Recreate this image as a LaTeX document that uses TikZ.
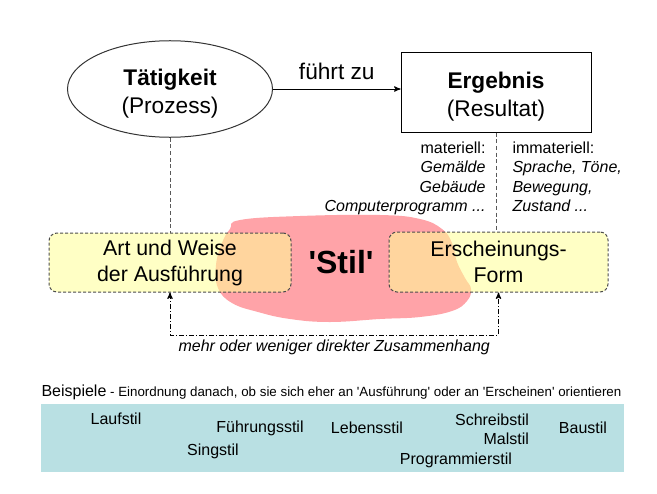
\documentclass[tikz,border=0pt]{standalone}
\usepackage{fontspec}
\setmainfont{Liberation Sans}
\usetikzlibrary{arrows,shapes.geometric,positioning}
\definecolor{stilrot}{HTML}{FFA3A8}
\definecolor{gelb}{RGB}{255,255,150}
\definecolor{tuerkis}{HTML}{B9E0E3}
\newcommand{\q}{\textquotesingle}

\begin{document}
\begin{tikzpicture}[x=0.75pt,y=-0.75pt,>=stealth',line width=0.75pt,
	big/.style={font=\fontsize{17}{21}\selectfont},
	mid/.style={font=\fontsize{16}{19.5}\selectfont},
	small/.style={font=\fontsize{12}{14.6}\selectfont},
	main box/.style={rounded corners=6pt,draw=black!70,dash pattern=on 2.25pt off 1.5pt,
		fill=gelb,fill opacity=0.55,text opacity=1,align=center,mid},
	divider/.style={draw=black!65,dash pattern=on 3pt off 2pt},
	connector/.style={draw=black,dash pattern=on 3.75pt off 1.5pt on 0.75pt off 1.5pt},
	example/.style={small,inner sep=0pt}]
	\useasboundingbox (0,0) rectangle (657,493);
	% Stil-Wolke
	\fill[stilrot] plot[smooth cycle,tension=0.7] coordinates {
		(240,220) (300,216) (380,215) (420,219) (442,229) (452,243) (457,262)
		(465,278) (471,289) (467,301) (452,311) (420,317) (380,319) (330,322)
		(290,319) (258,312) (232,303) (218,288) (216,265) (222,243) (230,229)};
	\node[ellipse,draw=black!80,minimum width=153.75pt,minimum height=58.5pt,align=center,big]
		(taet) at (170,89) {\rule{0pt}{20pt}\textbf{Tätigkeit}\\(Prozess)};
	\node[draw,minimum width=142.5pt,minimum height=60pt,align=center,big]
		(erg) at (496,92) {\rule{0pt}{20pt}\textbf{Ergebnis}\\(Resultat)};
	\draw[->] (taet.east) -- node[above=3pt,big] {führt zu} (taet.east -| erg.west);
	\node[small,anchor=north east,align=right,inner sep=0pt] (mat) at (486,141)
		{materiell:\\\textit{Gemälde}\\\textit{Gebäude}\\\textit{Computerprogramm ...}};
	\node[small,anchor=north west,align=left,inner sep=0pt] (immat) at (512,141)
		{immateriell:\\\textit{Sprache, Töne,}\\\textit{Bewegung,}\\\textit{Zustand ...}};
	\node[main box,minimum width=181.5pt,minimum height=44.25pt]
		(artbox) at (170,262.5) {Art und Weise\\der Ausführung};
	\node[main box,minimum width=164.25pt,minimum height=45pt]
		(erschbox) at (498.5,262) {Erscheinungs-\\Form};
	\draw[divider] (taet.south) -- (artbox.north);
	\draw[divider] (erg.south) -- (erg.south |- erschbox.north);
	\node[font=\bfseries\fontsize{24}{28}\selectfont] (stil) at (341,262) {\q Stil\q};
	% Zusammenhang
	\coordinate (unten) at (170,335);
	\draw[connector,<->] (artbox.south) -- (artbox.south |- unten)
		-- node[below=3pt,small,inner sep=0pt] {\textit{mehr oder weniger direkter Zusammenhang}}
		(erschbox.south |- unten) -- (erschbox.south);
	% Beispiele
	\node[anchor=west,inner sep=0pt] (bsp) at (41,392)
		{{\fontsize{12}{14}\selectfont Beispiele}{\fontsize{10}{12}\selectfont{} - Einordnung danach, ob sie sich eher an \q Ausführung\q{} oder an \q Erscheinen\q{} orientieren}};
	\node[fill=tuerkis,inner sep=0pt,minimum width=437.25pt,minimum height=51pt]
		(feld) at (332.5,438) {};
	\node[example] (lauf) at (116,419) {Laufstil};
	\node[example] (fuehr) at (260,428) {Führungsstil};
	\node[example] (sing) at (213,451) {Singstil};
	\node[example] (leben) at (367,428) {Lebensstil};
	\node[example] (schreib) at (492,420) {Schreibstil};
	\node[example,anchor=east] (mal) at (schreib.east |- 0,439) {Malstil};
	\node[example] (prog) at (456,460) {Programmierstil};
	\node[example] (bau) at (583,428) {Baustil};
\end{tikzpicture}
\end{document}
